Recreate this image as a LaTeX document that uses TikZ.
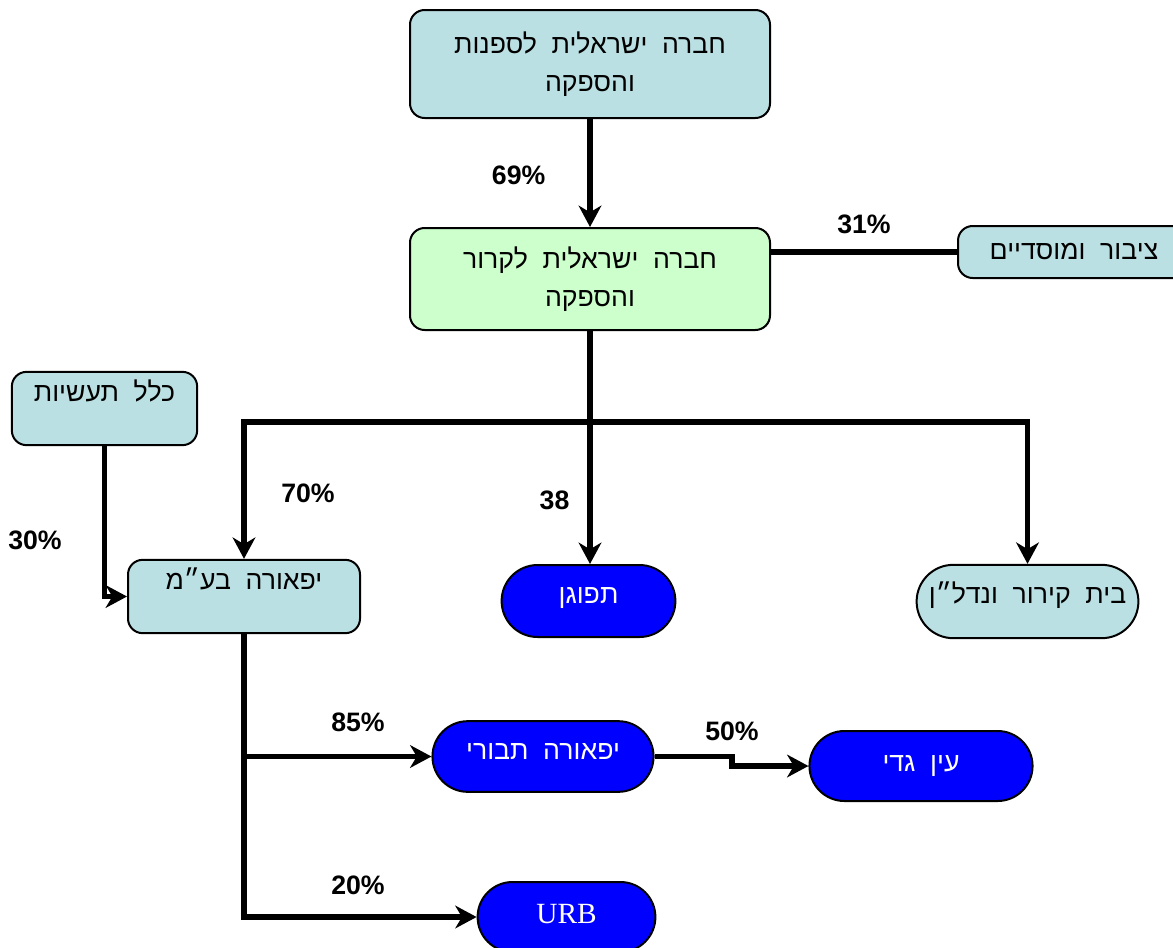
\documentclass[tikz,border=0pt]{standalone}
\usepackage{fontspec}
\setmainfont{Liberation Sans}
\newfontfamily\hebfont[Script=Hebrew]{Liberation Sans}
\newfontfamily\urbfont{Liberation Serif}
\usetikzlibrary{arrows.meta,shapes.misc}
\TeXXeTstate=1
\newcommand{\heb}[1]{\spaceskip=0.55em\relax\beginR #1\endR}
\definecolor{boxblue}{RGB}{187,224,227}
\definecolor{boxgreen}{RGB}{204,255,204}
\definecolor{pillblue}{RGB}{0,0,255}
\tikzset{
  box/.style={draw, line width=1.5pt, rounded corners=11pt, fill=boxblue, align=center,
    font=\hebfont\fontsize{20}{29}\selectfont},
  pill/.style={draw, line width=1.5pt, rounded rectangle, fill=pillblue, text=white,
    text depth=8pt, font=\hebfont\fontsize{20}{24}\selectfont},
  link/.style={line width=4.3pt},
  arr/.style={link, -{Stealth[length=16pt,width=17pt,inset=5pt]}},
  pct/.style={font=\bfseries\fontsize{20}{20}\selectfont},
}

\begin{document}
\begin{tikzpicture}[x=0.75pt,y=-0.75pt]
    \useasboundingbox (0,0) rectangle (1173,947);
    % companies
    \node[box, minimum width=270pt, minimum height=81pt] at (590,64) (shipping) {\heb{חברה ישראלית לספנות}\\ \heb{והספקה}};
    \node[box, fill=boxgreen, minimum width=270pt, minimum height=76.5pt] at (590,279) (cooling) {\heb{חברה ישראלית לקרור}\\ \heb{והספקה}};
    \node[box, minimum width=174pt, minimum height=39pt] at (1074,252) (public) {\heb{ציבור ומוסדיים}};
    \node[box, inner ysep=6pt, minimum width=139pt, minimum height=52pt] at (104.5,408.5) (klal) {\heb{כלל תעשיות}\\[-11pt] \strut};
    \node[box, inner ysep=6pt, minimum width=174pt, minimum height=55pt] at (244,596.5) (yafora) {\heb{יפאורה בע״מ}\\[-11pt] \strut};
    \node[pill, minimum width=137pt, minimum height=54pt] at (588.5,601) (tapugan) {\heb{תפוגן}};
    \node[pill, fill=boxblue, text=black, text depth=14pt, minimum width=173pt, minimum height=55pt] at (1027.5,601.5) (beit) {\heb{בית קירור ונדל״ן}};
    \node[pill, minimum width=172.5pt, minimum height=53pt] at (543,756.5) (tavori) {\heb{יפאורה תבורי}};
    \node[pill, text depth=4pt, minimum width=174pt, minimum height=52.5pt] at (921,766) (eingedi) {\heb{עין גדי}};
    \node[pill, text depth=4pt, font=\urbfont\fontsize{22}{24}\selectfont, minimum width=140pt, minimum height=52.5pt] at (566.5,917) (urb) {URB};
    % holdings
    \coordinate (split) at (590,422);
    \coordinate (step) at (732,756.5);
    \draw[arr] (shipping) -- (cooling) node[pct, pos=0.52, left=28pt] {69\%};
    \draw[link] (public.west) -- (public.west -| cooling.east) node[pct, midway, above=8pt] {31\%};
    \draw[link] (cooling) -- (split);
    \draw[arr] (split) -- (split |- tapugan.north) node[pct, pos=0.55, left=10pt] {38};
    \draw[arr] (split) -| (yafora);
    \draw[arr] (split) -| (beit);
    \node[pct] at (308,493) (p70) {70\%};
    \draw[arr] (klal.south) |- (yafora.west);
    \node[pct] at (35,540) (p30) {30\%};
    \draw[arr] (yafora.south |- tavori.west) -- (tavori.west);
    \node[pct] at (358,722) (p85) {85\%};
    \draw[arr] (yafora.south) |- (urb.west);
    \node[pct] at (358,885) (p20) {20\%};
    \draw[arr] (tavori.east) -- (step) |- (eingedi.west);
    \node[pct] at (732,731) (p50) {50\%};
\end{tikzpicture}
\end{document}
